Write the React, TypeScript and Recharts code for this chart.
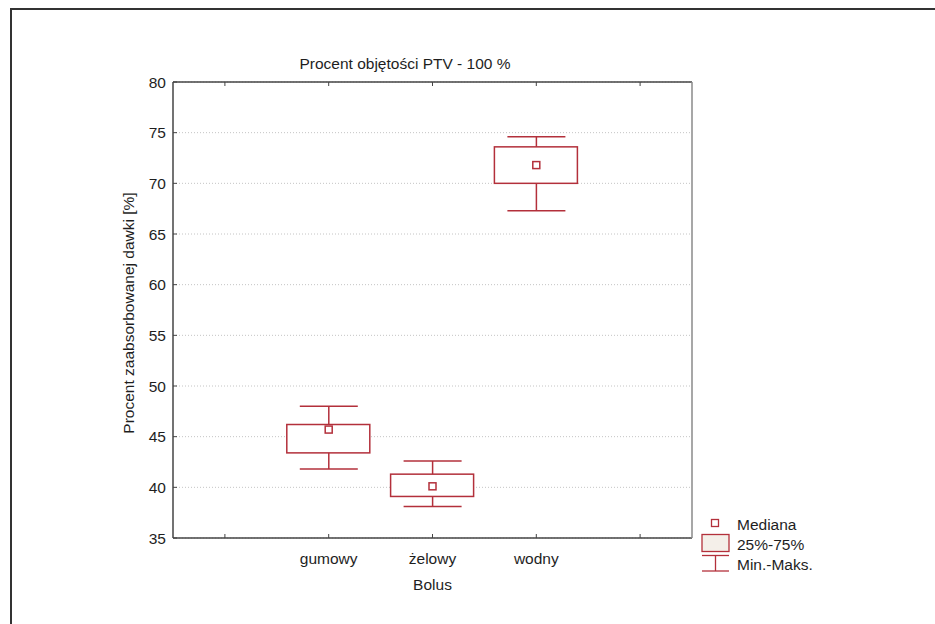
import { Bar, CartesianGrid, ComposedChart, Label, Legend, Scatter, XAxis, YAxis } from "recharts";

const categories = ["", "gumowy", "żelowy", "wodny", ""];
const minValues = [null, 41.8, 38.1, 67.3, null];
const q1Values = [null, 43.4, 39.1, 70.0, null];
const medianValues = [null, 45.7, 40.1, 71.8, null];
const q3Values = [null, 46.2, 41.3, 73.6, null];
const maxValues = [null, 48.0, 42.6, 74.6, null];
const yTicks = [35, 40, 45, 50, 55, 60, 65, 70, 75, 80];

const RED = "#b3303b";
const INK = "#1e1e1e";
const AXIS = "#444444";
const FONT = "'Liberation Sans', Arial, sans-serif";
const FS = 15.5;

const data = categories.map((name, i) => ({
  name,
  whisker: minValues[i] == null ? null : [minValues[i], maxValues[i]],
  box: q1Values[i] == null ? null : [q1Values[i], q3Values[i]],
  median: medianValues[i],
}));

function WhiskerShape(props: any) {
  const { x, y, width, height } = props;
  if (height == null || isNaN(y)) return <g />;
  const top = Math.min(y, y + height);
  const bottom = Math.max(y, y + height);
  const cx = x + width / 2;
  return (
    <g stroke={RED} strokeWidth={1.5}>
      <line x1={x} x2={x + width} y1={top} y2={top} />
      <line x1={x} x2={x + width} y1={bottom} y2={bottom} />
      <line x1={cx} x2={cx} y1={top} y2={bottom} />
    </g>
  );
}

function BoxShape(props: any) {
  const { x, y, width, height } = props;
  if (height == null || isNaN(y)) return <g />;
  const top = Math.min(y, y + height);
  return <rect x={x} y={top} width={width} height={Math.abs(height)} fill="#ffffff" stroke={RED} strokeWidth={1.5} />;
}

function MedianShape(props: any) {
  const { cx, cy } = props;
  if (cx == null || cy == null || isNaN(cy)) return <g />;
  return <rect x={cx - 3.5} y={cy - 3.5} width={7} height={7} fill="#ffffff" stroke={RED} strokeWidth={1.5} />;
}

// legend drawn like the Statistica one: marker on the left, label to the right
function BoxLegend() {
  const text = { fontFamily: FONT, fontSize: FS, fill: INK, dominantBaseline: "central" as const };
  return (
    <svg width={130} height={60} style={{ display: "block", overflow: "visible" }}>
      <rect x={11.5} y={4.5} width={7} height={7} fill="#fff" stroke={RED} strokeWidth={1.3} />
      <text x={37} y={9} {...text}>Mediana</text>
      <rect x={2} y={19.5} width={27} height={17} fill="#f4efe9" stroke={RED} strokeWidth={1.3} />
      <text x={37} y={29} {...text}>25%-75%</text>
      <g stroke={RED} strokeWidth={1.3}>
        <line x1={2} x2={29} y1={40.5} y2={40.5} />
        <line x1={2} x2={29} y1={56} y2={56} />
        <line x1={15.5} x2={15.5} y1={40.5} y2={56} />
      </g>
      <text x={37} y={49} {...text}>Min.-Maks.</text>
    </svg>
  );
}

export default function App() {
  const tick = { fontFamily: FONT, fontSize: FS, fill: INK };
  return (
    <div
      style={{
        position: "absolute",
        left: 0,
        top: 0,
        width: 935,
        height: 624,
        background: "#ffffff",
        overflow: "hidden",
        fontFamily: FONT,
      }}
    >
      <div
        style={{
          position: "absolute",
          left: 10,
          top: 8,
          width: 960,
          height: 660,
          borderLeft: "2px solid #333",
          borderTop: "2px solid #333",
        }}
      />
      <ComposedChart width={935} height={624} data={data} margin={{ top: 81, right: 242, bottom: 85, left: 172 }}>
        <CartesianGrid horizontal vertical={false} stroke="#c4c4c4" strokeDasharray="1 2" />
        <XAxis
          dataKey="name"
          height={1}
          tickSize={-4}
          tickMargin={19}
          tick={tick}
          tickLine={{ stroke: AXIS }}
          axisLine={{ stroke: AXIS, strokeWidth: 1.5 }}
          interval={0}
        >
          <Label value="Bolus" position="bottom" offset={40} style={{ fontFamily: FONT, fontSize: FS, fill: INK }} />
        </XAxis>
        <XAxis
          xAxisId="top"
          orientation="top"
          dataKey="name"
          height={1}
          tickSize={-4}
          tickFormatter={() => ""}
          tickLine={{ stroke: AXIS }}
          axisLine={{ stroke: AXIS, strokeWidth: 1.5 }}
          interval={0}
        >
          <Label
            content={(p: any) => (
              <text x={p.viewBox.x + 232} y={p.viewBox.y - 12} textAnchor="middle" fontFamily={FONT} fontSize={FS} fill={INK}>
                Procent objętości PTV - 100 %
              </text>
            )}
          />
        </XAxis>
        <XAxis xAxisId="box" dataKey="name" hide />
        <YAxis
          type="number"
          domain={[35, 80]}
          ticks={yTicks}
          width={1}
          tickSize={-4}
          tickMargin={11}
          tick={tick}
          tickLine={{ stroke: AXIS }}
          axisLine={{ stroke: AXIS, strokeWidth: 1.5 }}
          interval={0}
        >
          <Label
            content={(p: any) => {
              const cx = p.viewBox.x - 44;
              const cy = p.viewBox.y + p.viewBox.height / 2 + 3;
              return (
                <text
                  x={cx}
                  y={cy}
                  transform={`rotate(-90, ${cx}, ${cy})`}
                  textAnchor="middle"
                  dominantBaseline="central"
                  fontFamily={FONT}
                  fontSize={FS}
                  fill={INK}
                >
                  Procent zaabsorbowanej dawki [%]
                </text>
              );
            }}
          />
        </YAxis>
        <YAxis
          yAxisId="right"
          orientation="right"
          type="number"
          domain={[35, 80]}
          ticks={yTicks}
          width={1}
          tickSize={-4}
          tickFormatter={() => ""}
          tickLine={{ stroke: AXIS }}
          axisLine={{ stroke: "#8a8a8a", strokeWidth: 1.5 }}
          interval={0}
        />
        <Bar dataKey="whisker" barSize={58} shape={WhiskerShape} isAnimationActive={false} legendType="none" />
        <Bar xAxisId="box" dataKey="box" barSize={83} shape={BoxShape} isAnimationActive={false} legendType="none" />
        <Scatter dataKey="median" shape={MedianShape} isAnimationActive={false} legendType="none" />
        <Legend
          layout="vertical"
          align="center"
          verticalAlign="middle"
          content={() => <BoxLegend />}
          wrapperStyle={{ left: 700, top: 515, width: 130 }}
        />
      </ComposedChart>
    </div>
  );
}
